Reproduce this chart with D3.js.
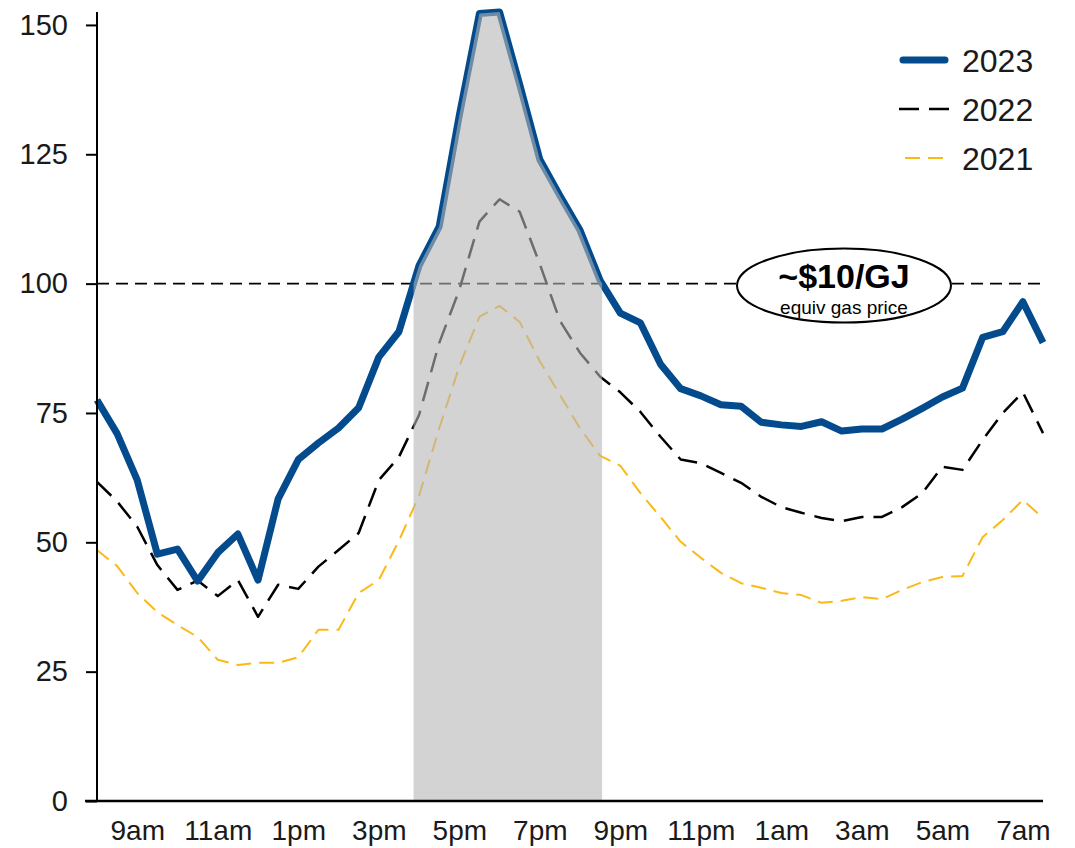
<!DOCTYPE html>
<html>
<head>
<meta charset="utf-8">
<script src="https://cdn.jsdelivr.net/npm/d3@7"></script>
<style>
  html, body { margin: 0; padding: 0; background: #fff; }
  svg { display: block; font-family: "Liberation Sans", Arial, Helvetica, sans-serif; }
</style>
</head>
<body>
<svg id="chart" width="1075" height="848"></svg>
<script>
// ---- Data ----
const times = ["08:00","08:30","09:00","09:30","10:00","10:30","11:00","11:30",
  "12:00","12:30","13:00","13:30","14:00","14:30","15:00","15:30",
  "16:00","16:30","17:00","17:30","18:00","18:30","19:00","19:30",
  "20:00","20:30","21:00","21:30","22:00","22:30","23:00","23:30",
  "00:00","00:30","01:00","01:30","02:00","02:30","03:00","03:30",
  "04:00","04:30","05:00","05:30","06:00","06:30","07:00","07:30"];

const tickTimes  = ["09:00","11:00","13:00","15:00","17:00","19:00","21:00","23:00","01:00","03:00","05:00","07:00"];
const tickLabels = ["9am","11am","1pm","3pm","5pm","7pm","9pm","11pm","1am","3am","5am","7am"];

const yTicks = [0, 25, 50, 75, 100, 125, 150];

const values2023 = [77.5, 71, 62, 47.7, 48.7, 42.5, 48, 51.6, 42.7, 58.4, 66, 69.2, 72.1, 76, 85.8, 90.7,
  103.5, 111, 132.5, 152.2, 152.5, 138.5, 124, 117, 110.3, 100.6, 94.3, 92.4, 84.4, 79.7, 78.3, 76.6,
  76.3, 73.2, 72.7, 72.4, 73.3, 71.5, 71.9, 71.9, 73.8, 75.9, 78.1, 79.8, 89.6, 90.7, 96.5, 88.6];

const values2022 = [61.7, 57.9, 53, 45.6, 40.8, 42.6, 39.6, 42.7, 35.6, 41.8, 41, 45.3, 48.5, 51.8, 62, 66.5,
  74.6, 88.5, 98.8, 112, 116.3, 113.9, 103.8, 92.8, 86.6, 82, 79, 75.2, 70.4, 66, 65.3, 63.4,
  61.5, 58.8, 56.8, 55.7, 54.7, 54.1, 54.9, 54.9, 56.8, 59.5, 64.6, 64, 69.8, 75, 79, 71.1];

const values2021 = [48.5, 45.4, 40.2, 36.5, 34, 31.7, 27.3, 26.3, 26.7, 26.7, 27.8, 33.1, 33.1, 40.2, 42.7, 50.3,
  59, 72, 84, 93.6, 95.7, 92.6, 85, 78.5, 72, 66.7, 64.8, 59.5, 54.9, 50.1, 47, 44.1,
  42.1, 41.2, 40.2, 39.8, 38.3, 38.7, 39.4, 39, 40.8, 42.3, 43.3, 43.5, 51, 54.3, 58.2, 54.7];

const seriesNames = ["2023", "2022", "2021"];
const refValue = 100;
const annotationTitle = "~$10/GJ";
const annotationSub = "equiv gas price";

// ---- Layout ----
const svg = d3.select("#chart");
const mLeft = 97, mRight = 1043, mTop = 12, mBottom = 801;

const x = d3.scalePoint().domain(times).range([mLeft, mRight]);
const y = d3.scaleLinear().domain([0, 152.5]).range([mBottom, mTop]);

const styles = {
  "2023": { color: "#034b8c", width: 7, dash: null },
  "2022": { color: "#000000", width: 2.5, dash: "20,10" },
  "2021": { color: "#fbb918", width: 2, dash: "15,8" }
};
const dataBy = { "2023": values2023, "2022": values2022, "2021": values2021 };

const line = d3.line().x((d, i) => x(times[i])).y(d => y(d));

// reference line
svg.append("line")
  .attr("x1", mLeft).attr("x2", mRight)
  .attr("y1", y(refValue)).attr("y2", y(refValue))
  .attr("stroke", "#000").attr("stroke-width", 1.8)
  .attr("stroke-dasharray", "12,7");

// series lines (bottom to top)
["2021", "2022", "2023"].forEach(k => {
  const s = styles[k];
  svg.append("path")
    .datum(dataBy[k])
    .attr("d", line)
    .attr("fill", "none")
    .attr("stroke", s.color)
    .attr("stroke-width", s.width)
    .attr("stroke-linejoin", "round")
    .attr("stroke-dasharray", s.dash);
});

// shaded area where 2023 exceeds the reference value
(function () {
  const pts = [];
  const v = values2023;
  for (let i = 0; i < v.length; i++) {
    const xi = x(times[i]);
    if (i > 0) {
      const a = v[i - 1], b = v[i];
      if ((a - refValue) * (b - refValue) < 0) {
        const t = (refValue - a) / (b - a);
        const xa = x(times[i - 1]);
        pts.push({ x: xa + t * (xi - xa), v: refValue });
      }
    }
    if (v[i] >= refValue) pts.push({ x: xi, v: v[i] });
  }
  const area = d3.area().x(d => d.x).y0(y(0)).y1(d => y(d.v));
  svg.append("path")
    .datum(pts)
    .attr("d", area)
    .attr("fill", "#b6b6b6")
    .attr("fill-opacity", 0.6);
})();

// axes
const yAxis = d3.axisLeft(y).tickValues(yTicks).tickSize(11).tickPadding(18);
const gy = svg.append("g").attr("transform", `translate(${mLeft},0)`).call(yAxis);
gy.select(".domain").attr("stroke-width", 2).attr("d", `M0,${mTop}V${mBottom}`);
gy.selectAll(".tick line").attr("stroke-width", 2);
gy.selectAll(".tick text").attr("font-size", 29).attr("fill", "#1a1a1a")
  .attr("font-family", "'Liberation Sans', Arial, sans-serif");

const xAxis = d3.axisBottom(x).tickValues(tickTimes).tickSize(0).tickPadding(19)
  .tickFormat(d => tickLabels[tickTimes.indexOf(d)]);
const gx = svg.append("g").attr("transform", `translate(0,${mBottom})`).call(xAxis);
gx.select(".domain").attr("stroke-width", 2.4).attr("d", `M${mLeft - 12},0H${mRight}`);
gx.selectAll(".tick text").attr("font-size", 28).attr("fill", "#1a1a1a")
  .attr("font-family", "'Liberation Sans', Arial, sans-serif");

// annotation ellipse
const ax = 844, ay = y(refValue) + 2;
svg.append("ellipse")
  .attr("cx", ax).attr("cy", ay).attr("rx", 107).attr("ry", 37)
  .attr("fill", "#fff").attr("stroke", "#000").attr("stroke-width", 2);
svg.append("text")
  .attr("x", ax).attr("y", ay + 2).attr("text-anchor", "middle")
  .attr("font-size", 34).attr("font-weight", "bold").attr("fill", "#000")
  .text(annotationTitle);
svg.append("text")
  .attr("x", ax).attr("y", ay + 28).attr("text-anchor", "middle")
  .attr("font-size", 19).attr("fill", "#000")
  .text(annotationSub);

// legend
const legY = [60, 109, 158];
seriesNames.forEach((k, i) => {
  const s = styles[k];
  const g = svg.append("g").attr("transform", `translate(0,${legY[i]})`);
  if (k === "2023") {
    g.append("line").attr("x1", 903).attr("x2", 945).attr("y1", 0).attr("y2", 0)
      .attr("stroke", s.color).attr("stroke-width", 7).attr("stroke-linecap", "round");
  } else if (k === "2022") {
    g.append("line").attr("x1", 899).attr("x2", 949).attr("y1", 0).attr("y2", 0)
      .attr("stroke", s.color).attr("stroke-width", 2.5).attr("stroke-dasharray", s.dash);
  } else {
    g.append("line").attr("x1", 905).attr("x2", 943).attr("y1", 0).attr("y2", 0)
      .attr("stroke", s.color).attr("stroke-width", 2).attr("stroke-dasharray", s.dash);
  }
  g.append("text").attr("x", 962).attr("y", 0).attr("dy", "0.36em")
    .attr("font-size", 32).attr("fill", "#1a1a1a").text(k);
});
</script>
</body>
</html>
